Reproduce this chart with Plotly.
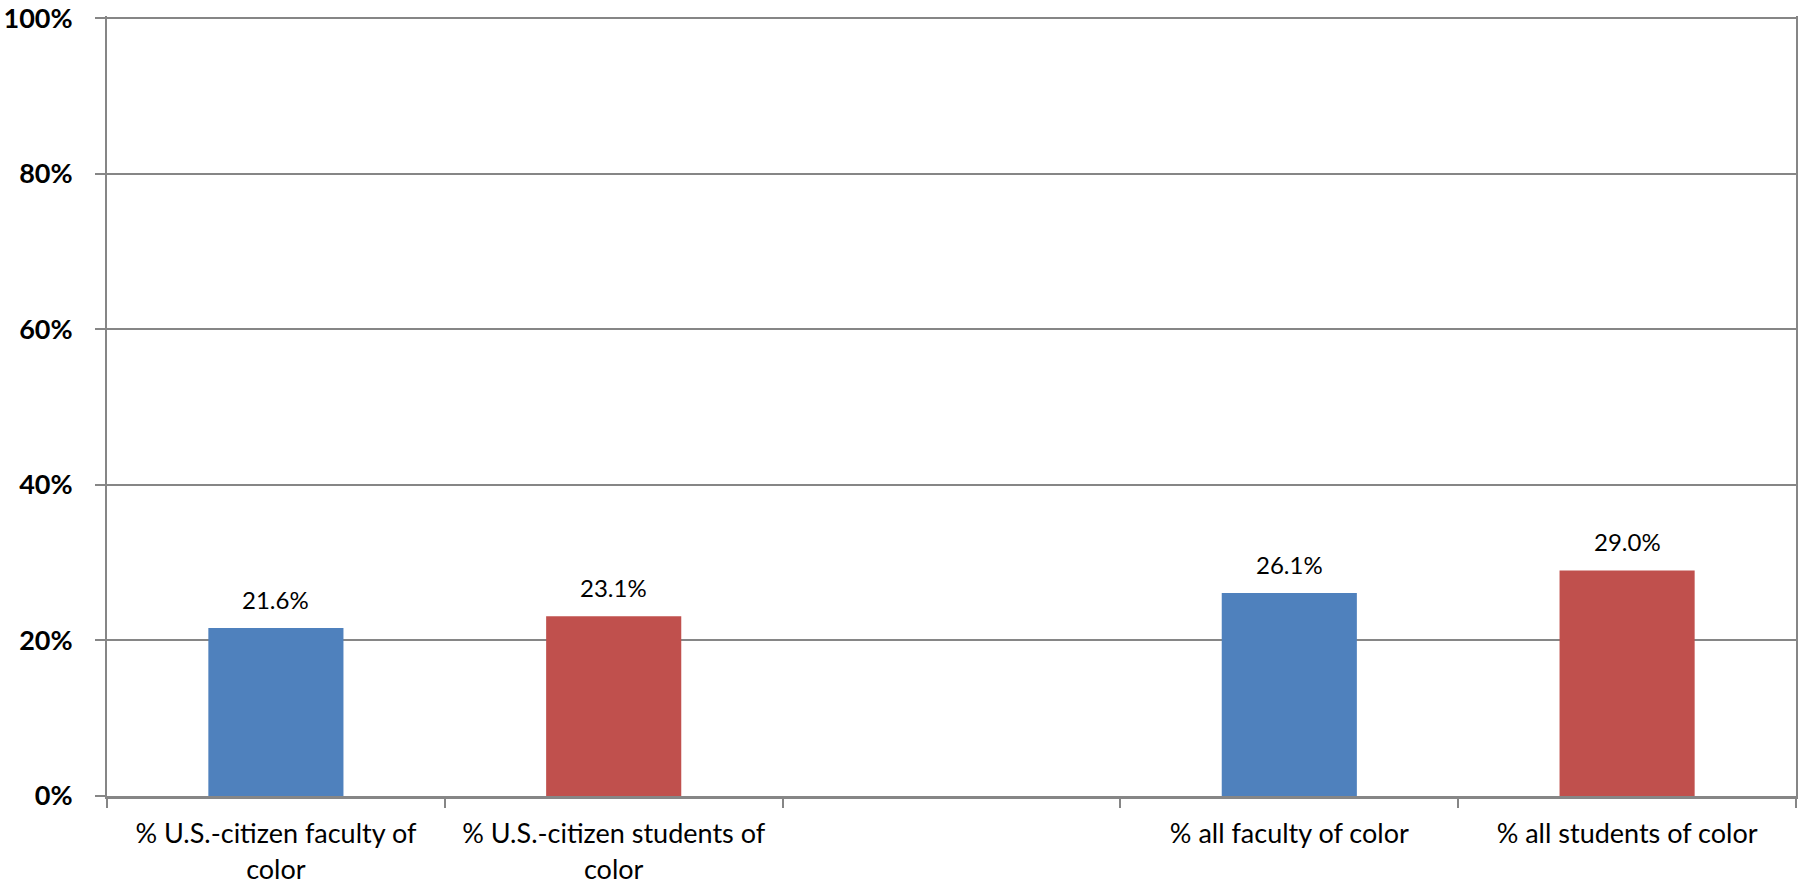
import plotly.graph_objects as go

categories = [
    "% U.S.-citizen faculty of<br>color",
    "% U.S.-citizen students of<br>color",
    " ",
    "% all faculty of color",
    "% all students of color",
]
values = [21.6, 23.1, None, 26.1, 29.0]
bar_colors = ["#4F81BD", "#C0504D", "#FFFFFF", "#4F81BD", "#C0504D"]
y_ticks = [0, 20, 40, 60, 80, 100]
y_ticktext = ["0%", "20%", "40%", "60%", "80%", "100%"]

FONT = "Lato"
GRAY = "#868686"

fig = go.Figure()
fig.add_trace(go.Bar(
    x=categories,
    y=values,
    width=0.4,
    marker=dict(color=bar_colors, line=dict(width=0)),
    showlegend=False,
    hoverinfo="skip",
))

for c, v in zip(categories, values):
    if v is None:
        continue
    fig.add_annotation(
        x=c, y=v, text=f"{v:.1f}%", showarrow=False,
        yanchor="bottom", yshift=12,
        font=dict(family=FONT, size=24, color="#000000"),
    )

fig.update_layout(
    width=1799, height=888,
    margin=dict(l=107, r=1, t=14, b=92),
    paper_bgcolor="white", plot_bgcolor="white",
    font=dict(family=FONT, color="#000000"),
    bargap=0.6,
)
fig.update_xaxes(
    type="category",
    categoryorder="array", categoryarray=categories,
    range=[-0.5, 4.5],
    tickson="boundaries",
    ticks="outside", ticklen=9, tickwidth=2, tickcolor=GRAY,
    showline=True, linecolor=GRAY, linewidth=3,
    showgrid=False,
    tickfont=dict(family=FONT, size=27, color="#000000"),
    tickangle=0,
    ticklabelstandoff=12,
)
fig.update_yaxes(
    range=[0, 100.3],
    tickvals=y_ticks, ticktext=y_ticktext,
    ticks="outside", ticklen=10, tickwidth=2, tickcolor=GRAY,
    showline=True, linecolor=GRAY, linewidth=2, mirror=True,
    showgrid=True, gridcolor=GRAY, gridwidth=2,
    zeroline=False,
    tickfont=dict(family=FONT, size=27, color="#000000", weight="bold"),
    ticklabelstandoff=17,
    ticklabeloverflow="allow",
)

fig.write_html(
    "out.html",
    config={"displayModeBar": False},
    post_script="document.body.style.margin='0';",
)
